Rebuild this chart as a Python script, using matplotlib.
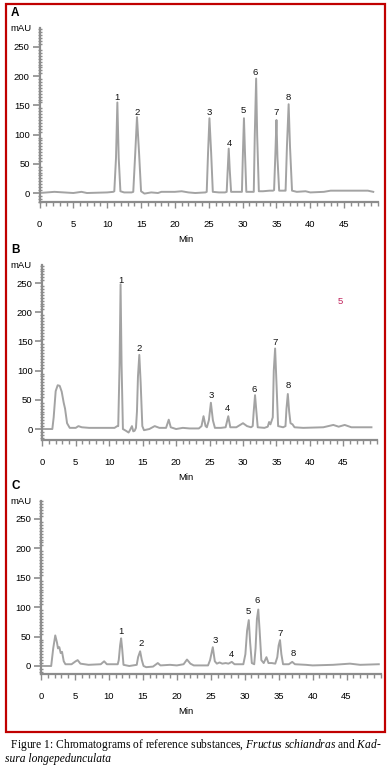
import matplotlib
matplotlib.use("Agg")
import matplotlib.pyplot as plt
from matplotlib.patches import Rectangle
from matplotlib.ticker import MultipleLocator

# chromatogram A (reference substances): time (min), signal (mAU)
a_time = [0, 2.2, 5, 6.2, 7, 10, 10.9,
          11.05, 11.3, 11.5, 11.7, 11.95, 12.5, 13.6,
          13.85, 14.15, 14.4, 14.7, 15.0, 15.5, 16.5, 17.5, 18, 20, 21, 22, 23, 24.5,
          24.7, 24.9, 25.1, 25.35, 25.6, 26.5, 27.4,
          27.65, 27.8, 27.95, 28.1, 28.3, 29.5,
          29.9, 30.05, 30.2, 30.35, 30.55, 31.2,
          31.65, 31.8, 32.0, 32.15, 32.4, 33, 34, 34.5,
          34.65, 34.85, 35.0, 35.15, 35.4, 36.2,
          36.35, 36.55, 36.8, 37.0, 37.3, 38, 39.3, 40, 42, 43, 46, 48.5, 49.3]
a_signal = [0, 2, 0, 2, 0, 1, 2,
            3, 60, 155, 60, 3, 1, 1,
            2, 70, 130, 70, 3, -1, 1, 0, 2, 2, 3, 1, 0, 1,
            2, 70, 128, 70, 2, 1, 1,
            2, 40, 76, 40, 2, 2,
            2, 70, 128, 70, 2, 2,
            2, 100, 196, 100, 3, 3, 4, 4,
            5, 70, 125, 60, 4, 4,
            4, 80, 152, 80, 4, 2, 3, 1, 2, 4, 4, 4, 2]
a_labels = ["1", "2", "3", "4", "5", "6", "7", "8"]
a_label_x = [11.5, 14.5, 25.1, 28.0, 30.1, 31.9, 35.0, 36.8]
a_label_y = [163, 137, 137, 85, 141, 206, 137, 163]

# chromatogram B (Fructus schiandras)
b_time = [0, 1.5, 1.7, 2.0, 2.3, 2.6, 2.9, 3.2, 3.4, 3.7, 4.1, 5.0, 5.4, 5.9, 7, 10.8, 11.2,
          11.35, 11.55, 11.7, 11.85, 12.05,
          12.5, 12.9, 13.1, 13.4, 13.6, 13.8, 14.0,
          14.15, 14.3, 14.5, 14.7, 14.95, 15.2,
          16, 16.8, 17.5, 18.5, 18.9, 19.2, 20, 21, 22, 23.4,
          23.8, 24.1, 24.4, 24.6,
          24.9, 25.2, 25.5, 25.8,
          26.7, 27.4, 27.8, 28.1,
          29, 30, 30.6, 31.2,
          31.45, 31.6, 31.8, 32.0, 32.2,
          33.2, 33.7, 33.9, 34.1,
          34.45, 34.6, 34.8, 35.0, 35.25,
          36, 36.35, 36.5, 36.7, 36.9, 37.1, 37.4, 37.7,
          39, 42, 43.5, 44.3, 45.2, 46.2, 49.2]
b_signal = [0, 0, 20, 65, 75, 74, 64, 45, 35, 10, 2, 2, 5, 3, 2, 2, 5,
            5, 110, 248, 110, 0,
            -3, -6, -2, 5, -4, -3, 2,
            30, 90, 127, 80, 5, -2,
            0, 5, 2, 2, 16, 3, 0, 2, 1, 1,
            5, 22, 5, 3,
            15, 45, 15, 2,
            2, 3, 22, 3,
            3, 10, 5, 3,
            5, 30, 58, 30, 3,
            2, 4, 12, 8,
            20, 100, 138, 80, 5,
            3, 5, 35, 60, 30, 10, 8, 3,
            2, 3, 7, 4, 7, 3, 3]
b_labels = ["1", "2", "3", "4", "6", "7", "8"]
b_label_x = [11.7, 14.5, 25.2, 27.7, 31.7, 34.8, 36.7]
b_label_y = [254, 138, 58, 35, 68, 148, 74]

# chromatogram C (Kadsura longepedunculata)
c_time = [0, 1.5, 1.8, 2.1, 2.35, 2.5, 2.7, 2.9, 3.1, 3.35, 3.6, 4.5, 5.1, 5.4, 5.8, 7, 8.8, 9.3, 9.7, 11.3,
          11.45, 11.65, 11.8, 11.95, 12.15,
          13, 14.1,
          14.3, 14.6, 14.85, 15.1,
          15.5, 16.5, 17.2, 17.6, 19, 20, 21, 21.5, 22, 22.5, 24.6,
          24.9, 25.3, 25.6, 25.9,
          26.3, 26.7, 27.2, 27.6, 28.1, 28.5, 29.8,
          30.1, 30.35, 30.6, 30.8, 31.05, 31.4,
          31.6, 31.8, 32.0, 32.2, 32.45, 32.8,
          33.2, 33.5, 34, 34.5,
          34.8, 35.0, 35.2, 35.4, 35.65,
          36.5, 37.0, 37.4, 39, 40, 43, 45.5, 47, 49.75]
c_signal = [0, 0, 30, 52, 40, 30, 32, 22, 24, 8, 3, 3, 8, 10, 4, 2, 3, 8, 3, 3,
            10, 35, 47, 30, 2,
            0, 2,
            15, 25, 10, 0,
            -2, -1, 5, 1, 2, 1, 3, 11, 4, 1, 1,
            10, 32, 8, 4,
            6, 4, 5, 4, 7, 3, 3,
            20, 60, 78, 40, 5, 3,
            30, 80, 96, 60, 10, 5,
            15, 5, 5, 4,
            15, 35, 44, 20, 3,
            3, 7, 3, 2, 1, 2, 4, 2, 3]
c_labels = ["1", "2", "3", "4", "5", "6", "7", "8"]
c_label_x = [11.8, 14.7, 25.6, 28.1, 30.6, 31.9, 35.2, 37.1]
c_label_y = [59, 39, 44, 20, 92, 112, 56, 21]

W, H = 390, 774
fig = plt.figure(figsize=(W / 100, H / 100), dpi=100)
plt.rcParams['font.family'] = ['Liberation Sans', 'DejaVu Sans']
plt.rcParams['mathtext.fontset'] = 'custom'
plt.rcParams['mathtext.rm'] = 'Liberation Serif'
plt.rcParams['mathtext.it'] = 'Liberation Serif:italic'

GRAY = '#8c8c8c'
TRACE = '#a3a3a3'


def panel(box, ylim, t, s, labels, lx, ly, letter):
    left, top, width, bottom = box
    ax = fig.add_axes([left / W, 1 - bottom / H, width / W, (bottom - top) / H])
    ax.plot(t, s, color=TRACE, lw=1.4, solid_joinstyle='round')
    for lab, x, y in zip(labels, lx, ly):
        ax.text(x, y, lab, ha='center', va='center', fontsize=6.8, color='#111111')
    ax.set_xlim(0, 50)
    ax.set_ylim(*ylim)
    for side in ['top', 'right']:
        ax.spines[side].set_visible(False)
    for side in ['left', 'bottom']:
        ax.spines[side].set_color(GRAY)
        ax.spines[side].set_linewidth(1.6)
    ax.set_xticks(range(0, 50, 5))
    ax.set_yticks(range(0, 300, 50))
    ax.xaxis.set_minor_locator(MultipleLocator(1))
    ax.yaxis.set_minor_locator(MultipleLocator(5))
    ax.tick_params(axis='x', which='major', length=4, width=1, color=GRAY,
                   labelsize=6.8, pad=9)
    ax.tick_params(axis='x', which='minor', length=3, width=1, color=GRAY)
    ax.tick_params(axis='y', which='major', length=5, width=1.2, color=GRAY,
                   labelsize=6.8, pad=2, direction='out')
    ax.tick_params(axis='y', which='minor', length=3, width=1, color=GRAY,
                   direction='inout')
    fig.text(21 / W, 1 - (top + 0.5) / H, 'mAU', ha='center', va='center', fontsize=6.8)
    fig.text(186 / W, 1 - (bottom + 37) / H, 'Min', ha='center', va='center', fontsize=6.8)
    fig.text(11 / W, 1 - (top - 15) / H, letter, ha='left', va='center',
             fontsize=8.5, fontweight='bold')
    return ax


panel((39.5, 28, 338.5, 202), (-15.4, 282.5), a_time, a_signal,
      a_labels, a_label_x, a_label_y, 'A')
ax_b = panel((42.3, 265, 334.5, 440), (-18.8, 281), b_time, b_signal,
             b_labels, b_label_x, b_label_y, 'B')
ax_b.text(44.5, 219, '5', ha='center', va='center', fontsize=6.8, color='#c0205a')
panel((41, 500.7, 339.5, 674), (-13.6, 281), c_time, c_signal,
      c_labels, c_label_x, c_label_y, 'C')

# red frame around the three panels
fig.patches.append(Rectangle((5.5 / W, 1 - 732 / H), 379.5 / W, 728.5 / H,
                             transform=fig.transFigure, fill=False,
                             edgecolor='#c00000', lw=1.6))

fig.text(8 / W, 1 - 745 / H,
         ' Figure 1: Chromatograms of reference substances, $\\it{Fructus\\ schiandras}$ and $\\it{Kad}$-',
         ha='left', va='center', fontsize=8.3, family='Liberation Serif')
fig.text(5 / W, 1 - 759 / H, 'sura longepedunculata', ha='left', va='center',
         fontsize=8.3, family='Liberation Serif', style='italic')

fig.savefig('out.png', dpi=100)
